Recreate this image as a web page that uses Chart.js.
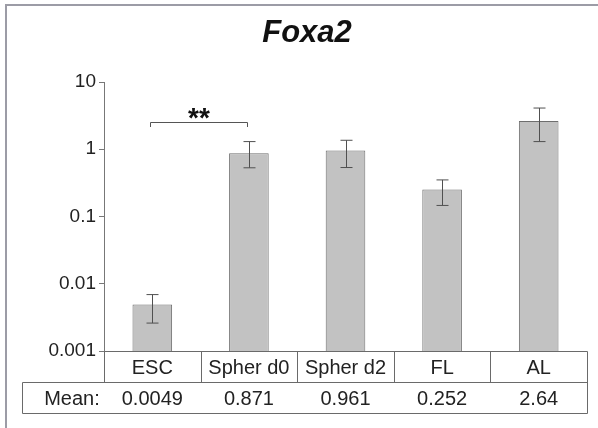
<!DOCTYPE html>
<html>
<head>
<meta charset="utf-8">
<script src="https://cdn.jsdelivr.net/npm/chart.js@4.4.1/dist/chart.umd.min.js"></script>
<style>
  body { margin: 0; background: #fff; }
  canvas { display: block; }
</style>
</head>
<body>
<canvas id="chart" width="598" height="428"></canvas>
<script>
// Foxa2 relative expression (log scale), mean with error range
const categories = ['ESC', 'Spher d0', 'Spher d2', 'FL', 'AL'];
const means = [0.0049, 0.871, 0.961, 0.252, 2.64];
const errHigh = [0.0069, 1.30, 1.36, 0.35, 4.1];
const errLow = [0.0026, 0.53, 0.535, 0.146, 1.30];
const meanLabels = ['0.0049', '0.871', '0.961', '0.252', '2.64'];
const yTicks = [0.001, 0.01, 0.1, 1, 10];
const yTickLabels = ['0.001', '0.01', '0.1', '1', '10'];

const FONT = '"Liberation Sans", Arial, sans-serif';
const TEXT = '#222222';
const LINE = '#6a6a6a';

// Everything the axes don't draw: frame, title, error bars, bracket, table
const extras = {
    id: 'extras',
    afterDatasetsDraw(chart) {
        const ctx = chart.ctx;
        const y = chart.scales.y;
        const bars = chart.getDatasetMeta(0).data;

        // Error bars
        ctx.save();
        ctx.strokeStyle = '#505050';
        ctx.lineWidth = 1;
        bars.forEach((bar, i) => {
            const x = Math.round(bar.x) + 0.5;
            const top = y.getPixelForValue(errHigh[i]);
            const bot = y.getPixelForValue(errLow[i]);
            ctx.beginPath();
            ctx.moveTo(x, top);
            ctx.lineTo(x, bot);
            ctx.moveTo(x - 6, top);
            ctx.lineTo(x + 6, top);
            ctx.moveTo(x - 6, bot);
            ctx.lineTo(x + 6, bot);
            ctx.stroke();
        });

        // Significance bracket ESC vs Spher d0
        const bx0 = Math.round(bars[0].x) - 1.5;
        const bx1 = Math.round(bars[1].x) - 1.5;
        ctx.strokeStyle = '#555';
        ctx.beginPath();
        ctx.moveTo(bx0, 127);
        ctx.lineTo(bx0, 122.5);
        ctx.lineTo(bx1, 122.5);
        ctx.lineTo(bx1, 127);
        ctx.stroke();
        ctx.fillStyle = '#111';
        ctx.font = 'bold 28px ' + FONT;
        ctx.textAlign = 'center';
        ctx.textBaseline = 'alphabetic';
        ctx.fillText('**', (bx0 + bx1) / 2, 127);
        ctx.restore();
    },
    afterDraw(chart) {
        const ctx = chart.ctx;
        const area = chart.chartArea;
        const x = chart.scales.x;
        const n = categories.length;
        const step = (area.right - area.left) / n;

        ctx.save();
        // Outer frame (top and left only)
        ctx.strokeStyle = '#9c9ca6';
        ctx.lineWidth = 2;
        ctx.beginPath();
        ctx.moveTo(6, 428);
        ctx.lineTo(6, 5);
        ctx.lineTo(598, 5);
        ctx.stroke();

        // Title
        ctx.fillStyle = '#111';
        ctx.font = 'italic bold 31px ' + FONT;
        ctx.textAlign = 'center';
        ctx.textBaseline = 'alphabetic';
        ctx.fillText('Foxa2', 307, 42);

        // Category / mean table
        const rowTop = Math.round(area.bottom) + 0.5;
        const rowMid = rowTop + 31;
        const rowBot = rowMid + 31;
        const left = Math.round(area.left) + 0.5;
        const right = Math.round(area.right) + 0.5;
        ctx.strokeStyle = LINE;
        ctx.lineWidth = 1;
        ctx.beginPath();
        ctx.moveTo(left, rowTop);
        ctx.lineTo(right, rowTop);
        ctx.moveTo(22.5, rowMid);
        ctx.lineTo(right, rowMid);
        ctx.moveTo(22.5, rowBot);
        ctx.lineTo(right, rowBot);
        ctx.moveTo(22.5, rowMid);
        ctx.lineTo(22.5, rowBot);
        ctx.moveTo(right, rowTop);
        ctx.lineTo(right, rowBot);
        for (let i = 0; i < n; i++) {
            const sx = Math.round(area.left + step * i) + 0.5;
            ctx.moveTo(sx, rowTop);
            ctx.lineTo(sx, rowMid);
        }
        ctx.stroke();

        ctx.fillStyle = TEXT;
        ctx.font = '20px ' + FONT;
        ctx.textBaseline = 'middle';
        categories.forEach((c, i) => {
            const cx = x.getPixelForValue(i);
            ctx.fillText(c, cx, (rowTop + rowMid) / 2 + 1);
            ctx.fillText(meanLabels[i], cx, (rowMid + rowBot) / 2 + 1);
        });
        ctx.fillText('Mean:', 72, (rowMid + rowBot) / 2 + 1);
        ctx.restore();
    }
};

new Chart(document.getElementById('chart'), {
    type: 'bar',
    data: {
        labels: categories,
        datasets: [{
            data: means,
            backgroundColor: '#c2c2c2',
            borderColor: '#6e6e6e',
            borderWidth: 1,
            categoryPercentage: 1,
            barPercentage: 0.41
        }]
    },
    options: {
        responsive: false,
        animation: false,
        layout: { padding: { left: 0, top: 82, right: 11, bottom: 77 } },
        plugins: {
            legend: { display: false },
            tooltip: { enabled: false }
        },
        scales: {
            x: { display: false },
            y: {
                type: 'logarithmic',
                min: 0.001,
                max: 10,
                afterFit(scale) { scale.width = 104; },
                afterBuildTicks(scale) {
                    scale.ticks = yTicks.map(v => ({ value: v }));
                },
                ticks: {
                    color: TEXT,
                    padding: 3,
                    font: { family: FONT, size: 19 },
                    callback: (v) => yTickLabels[yTicks.indexOf(v)]
                },
                grid: {
                    drawOnChartArea: false,
                    drawTicks: true,
                    tickLength: 5,
                    color: '#777'
                },
                border: { display: true, color: '#777', width: 1 }
            }
        }
    },
    plugins: [extras]
});
</script>
</body>
</html>
